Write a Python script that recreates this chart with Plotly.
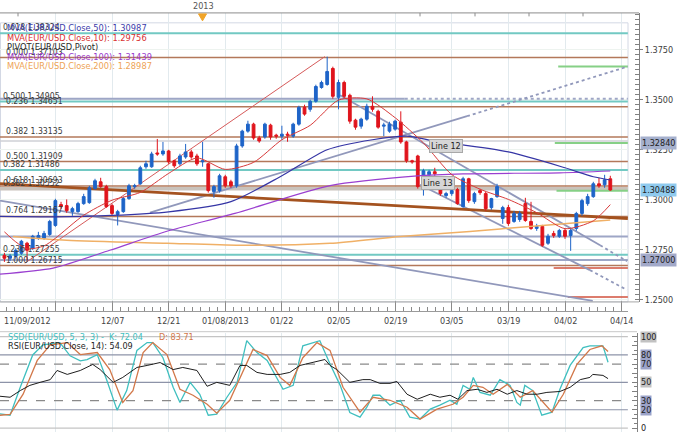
import plotly.graph_objects as go

W, H = 680, 436
def px(x): return x / W
def py(y): return 1 - y / H

FONT = "DejaVu Sans Condensed, DejaVu Sans, sans-serif"
BLUE = "#1e64c8"
RED = "#e0141c"

# ---------------- data ----------------
bars = list(range(1, 109))
opens = [1.2723,1.2708,1.2718,1.2733,1.2783,1.2758,1.2808,1.2808,1.2827,1.2872,
         1.2976,1.2971,1.2941,1.2941,1.2981,1.2986,1.3056,1.3090,1.3066,1.2971,
         1.2927,1.2941,1.3006,1.3066,1.3080,1.3165,1.3165,1.3234,1.3229,1.3244,
         1.3195,1.3180,1.3214,1.3239,1.3219,1.3190,1.3180,1.3041,1.3046,1.3115,
         1.3090,1.3070,1.3269,1.3343,1.3378,1.3309,1.3314,1.3373,1.3323,1.3318,
         1.3328,1.3318,1.3378,1.3462,1.3452,1.3492,1.3561,1.3576,1.3656,1.3512,
         1.3586,1.3522,1.3398,1.3368,1.3403,1.3467,1.3442,1.3368,1.3343,1.3353,
         1.3388,1.3289,1.3195,1.3219,1.3120,1.3125,1.3140,1.3080,1.3021,1.3031,
         1.3051,1.2966,1.3105,1.2991,1.3046,1.3031,1.2961,1.3016,1.2907,1.2961,
         1.2892,1.2902,1.2981,1.2892,1.2857,1.2867,1.2783,1.2832,1.2818,1.2847,
         1.2822,1.2857,1.2932,1.2981,1.3016,1.3080,1.3075,1.3105]
highs = [1.2735,1.2730,1.2758,1.2800,1.2790,1.2825,1.2840,1.2845,1.2900,1.3005,
         1.2990,1.3002,1.2965,1.2990,1.3030,1.3070,1.3105,1.3110,1.3075,1.2980,
         1.2950,1.3015,1.3080,1.3080,1.3170,1.3195,1.3240,1.3304,1.3289,1.3250,
         1.3200,1.3230,1.3279,1.3250,1.3230,1.3289,1.3185,1.3075,1.3130,1.3125,
         1.3100,1.3280,1.3350,1.3395,1.3385,1.3320,1.3385,1.3380,1.3330,1.3370,
         1.3340,1.3385,1.3470,1.3475,1.3500,1.3575,1.3595,1.3715,1.3665,1.3600,
         1.3595,1.3530,1.3405,1.3410,1.3480,1.3517,1.3450,1.3385,1.3390,1.3400,
         1.3442,1.3295,1.3200,1.3225,1.3155,1.3150,1.3160,1.3110,1.3040,1.3060,
         1.3060,1.3115,1.3110,1.3040,1.3055,1.3040,1.3010,1.3080,1.2970,1.2975,
         1.2945,1.2945,1.3010,1.2990,1.2880,1.2875,1.2830,1.2845,1.2855,1.2855,
         1.2855,1.2940,1.3005,1.3030,1.3090,1.3110,1.3125,1.3120]
lows = [1.2690,1.2695,1.2705,1.2725,1.2698,1.2750,1.2800,1.2800,1.2820,1.2865,
        1.2955,1.2935,1.2920,1.2935,1.2975,1.2980,1.3050,1.3060,1.2960,1.2920,
        1.2872,1.2935,1.3000,1.3055,1.3075,1.3155,1.3160,1.3220,1.3220,1.3180,
        1.3160,1.3170,1.3205,1.3205,1.3170,1.3165,1.3036,1.3010,1.3036,1.3060,
        1.3060,1.3060,1.3260,1.3335,1.3300,1.3285,1.3305,1.3300,1.3305,1.3300,
        1.3290,1.3310,1.3370,1.3420,1.3440,1.3485,1.3555,1.3570,1.3505,1.3452,
        1.3505,1.3380,1.3350,1.3355,1.3395,1.3440,1.3355,1.3318,1.3335,1.3345,
        1.3280,1.3185,1.3180,1.3056,1.3021,1.3115,1.3120,1.3020,1.3010,1.3020,
        1.2975,1.2960,1.2985,1.2980,1.3025,1.2945,1.2950,1.3010,1.2880,1.2870,
        1.2885,1.2890,1.2890,1.2850,1.2845,1.2765,1.2775,1.2810,1.2810,1.2805,
        1.2745,1.2845,1.2920,1.2970,1.3010,1.3060,1.3060,1.3045]
closes = [1.2708,1.2720,1.2748,1.2793,1.2748,1.2818,1.2822,1.2832,1.2892,1.2996,
          1.2966,1.2946,1.2956,1.2981,1.3016,1.3060,1.3095,1.3066,1.2966,1.2932,
          1.2941,1.3006,1.3070,1.3070,1.3160,1.3180,1.3229,1.3229,1.3244,1.3190,
          1.3170,1.3219,1.3239,1.3214,1.3180,1.3195,1.3046,1.3066,1.3120,1.3070,
          1.3070,1.3269,1.3343,1.3378,1.3309,1.3294,1.3378,1.3314,1.3318,1.3328,
          1.3323,1.3378,1.3462,1.3428,1.3492,1.3566,1.3586,1.3641,1.3517,1.3586,
          1.3517,1.3393,1.3363,1.3403,1.3467,1.3452,1.3363,1.3373,1.3378,1.3393,
          1.3289,1.3195,1.3190,1.3066,1.3145,1.3140,1.3130,1.3031,1.3031,1.3046,
          1.2981,1.3105,1.2996,1.3031,1.3036,1.2956,1.3006,1.3066,1.2961,1.2882,
          1.2932,1.2932,1.2897,1.2857,1.2867,1.2773,1.2818,1.2822,1.2847,1.2818,
          1.2847,1.2932,1.2996,1.3016,1.3080,1.3070,1.3100,1.3049]

ma10_x = [1,3,5,8,10,15,20,25,30,35,40,45,50,55,60,65,70,75,80,85,90,95,100,105,108]
ma10 = [1.2840,1.2790,1.2755,1.2770,1.2808,1.2923,1.2998,1.3037,1.3132,1.3209,1.3152,1.3187,
        1.3300,1.3372,1.3498,1.3504,1.3410,1.3284,1.3126,1.3053,1.3002,1.2936,1.2856,1.2895,1.2976]
ma50_x = [0.2,10,20,30,41,50,58,66,72,77,90,100,105,108]
ma50 = [1.2917,1.2915,1.2922,1.2940,1.2991,1.3120,1.3250,1.3300,1.3318,1.3294,1.3239,1.3160,1.3115,1.3099]
ma100_x = [0.2,9.6,19.6,29.7,41.7,58.5,73.9,82,99.1,108]
ma100 = [1.2629,1.2659,1.2748,1.2843,1.2932,1.3071,1.3120,1.3130,1.3135,1.3144]
ma200_x = [2.5,12,29.7,42.6,58.5,70.9,83.2,93.8,108]
ma200 = [1.2817,1.2798,1.2783,1.2773,1.2783,1.2817,1.2842,1.2867,1.2899]

k_x = [0.2,2.0,3.8,6.0,7.8,10.8,12.6,14.4,15.6,17.4,19.1,20.9,22.6,24.4,26.2,27.2,29.0,30.8,32.0,33.8,
       35.5,37.0,38.5,40.3,42.1,43.8,45.6,47.4,50.2,52.0,53.7,56.7,58.5,60.3,62.0,63.8,65.0,66.1,67.3,69.1,
       70.9,72.6,74.4,76.2,77.9,79.7,80.9,82.0,83.2,83.8,85.0,86.8,88.5,90.3,91.5,92.1,92.9,94.3,95.9,97.7,
       99.1,100.9,103.2,104.4,106.7,107.6]
k_v = [15.6,14,44.6,80,91,93.5,79,73.5,75,80.4,52,19.6,41,85,93.5,93.5,77,44.6,28,50,
       37,14,15.2,33.7,50,95.6,82.6,73.9,42.4,46.7,90,95.6,70,46.7,17,12,22.8,35.9,35.9,25,
       30.4,12,9.8,20.7,25,30.4,26,46.7,42.4,55.4,39,35.9,53,46.7,28,25,46.7,41,14,17.4,
       42.4,68.5,88,90,90,72.04]
d_x = [0.2,2.0,4.3,6.8,9.1,12.1,14.4,17.4,19.6,21.9,23.7,25.5,27.2,29.7,32.0,34.3,36.8,38.5,40.8,42.6,
       44.9,47.4,49.7,51.4,53.7,56.2,58.5,60.8,63.8,66.1,69.1,72.1,74.4,77.4,80.2,82.0,83.8,85.5,87.3,89.8,
       92.1,94.3,97.7,99.7,102.1,104.4,106.5,107.6]
d_v = [14,15,37,74,91,93.5,80.4,82.6,64,28,41,82.6,93.5,80.4,42.4,35.9,26,16.3,30.4,55.4,
       86,79.3,55.4,46.7,77,93.5,85,44.6,17.4,33.7,30.4,22.8,9.8,20.7,26,33.7,46.7,44.6,37,47.8,
       33.7,41,17.4,37,69.6,86,90,83.71]
rsi_x = [0.2,2.0,3.8,5.5,7.3,9.1,10.3,12.1,14.4,16.6,17.9,20.2,21.9,24.4,26.2,28.5,30.8,32.5,35.0,36.8,
         38.5,40.8,42.6,43.8,45.6,47.4,49.7,51.4,53.2,55.5,57.6,58.5,59.7,62.0,64.3,65.6,67.3,69.1,70.3,72.1,
         73.9,76.2,77.9,79.7,81.1,82.7,84.5,86.2,88.0,89.8,91.5,93.3,95.1,96.8,99.1,100.9,102.7,104.4,104.9,106.7,107.6]
rsi_v = [34.8,33.7,41,46.7,50,53,63,58.7,63,69.6,64,50,55.4,66.3,68.5,71.7,64,66.3,63,45.7,
         50,46.7,68.5,68.5,60.9,58.7,58.7,60.9,68.5,71.7,75,68.5,64,50,53,53,48.9,48.9,51,37,
         31.5,37,33.7,35.9,31.5,41,42.4,39,42.4,37,41,37,37,39,40,44.6,53,55.4,58.7,57.6,54.09]

fib_text = ["0.618 1.38324","0.000 1.37103","0.500 1.34905","0.236 1.34651","0.382 1.33135",
            "0.500 1.31909","0.382 1.31486","0.618 1.30693","0.382 1.30552","0.764 1.29167",
            "0.236 1.27255","1.000 1.26715"]
fib_price = [1.38324,1.37103,1.34905,1.34651,1.33135,1.31909,1.31486,1.30693,1.30552,1.29167,1.27255,1.26715]
fib_kind = ["teal","brown","teal","brown","brown","brown","teal","brown","band","brown","teal","brown"]
fib_textx = [1,4,1,4,4,4,1,4,1,4,1,4]

other_price = [1.3505, 1.3294, 1.2817, 1.2700]
other_kind = ["grayblue", "lightgray", "grayblue", "grayblue"]

short_price = [1.3666, 1.3284, 1.3045, 1.2660, 1.2514]
short_from = [98.8, 98.2, 98.5, 98.0, 100.5]
short_kind = ["green", "green", "green", "red", "red"]

trend_x0 = [0.22, 26.7, 82.7, 60.3, 106.2, 74.4, 104.4, 4.6, 0.22]
trend_p0 = [1.29960, 1.29365, 1.34177, 1.35218, 1.27728, 1.30754, 1.26488, 1.26835, 1.30804]
trend_x1 = [104.9, 82.7, 111.1, 106.2, 110.95, 104.4, 110.95, 57.6, 111.1]
trend_p1 = [1.24950, 1.34177, 1.36657, 1.27728, 1.26934, 1.26488, 1.25496, 1.37153, 1.29067]
trend_kind = ["gray", "gray", "graydot", "gray", "graydot", "gray", "graydot", "red", "thick"]

price_ticks = [1.25, 1.275, 1.30, 1.325, 1.35, 1.375]
date_pos = [0, 20, 30, 40, 50, 60, 70, 80, 90, 100, 110]
date_text = ["11/09/2012", "12/07", "12/21", "01/08/2013", "01/22", "02/05",
             "02/19", "03/05", "03/19", "04/02", "04/14"]
major_ticks = list(range(0, 111, 10))

# ---------------- figure ----------------
X_LO, X_HI = 0.2208, 111.125
P_BOT, P_TOP = 1.24901, 1.39335

fig = go.Figure()
fig.add_trace(go.Candlestick(
    x=bars, open=opens, high=highs, low=lows, close=closes, xaxis="x", yaxis="y",
    increasing=dict(line=dict(color=BLUE, width=1), fillcolor=BLUE),
    decreasing=dict(line=dict(color=RED, width=1), fillcolor=RED),
    whiskerwidth=0, showlegend=False, hoverinfo="skip"))

for xs, ys, col, w in [(ma200_x, ma200, "#f0b066", 1.5), (ma100_x, ma100, "#9a3fd0", 1.2),
                       (ma50_x, ma50, "#3535a5", 1.2), (ma10_x, ma10, "#d83a3a", 1.0)]:
    fig.add_trace(go.Scatter(x=xs, y=ys, mode="lines", xaxis="x", yaxis="y",
                             line=dict(color=col, width=w, shape="spline", smoothing=0.7),
                             showlegend=False, hoverinfo="skip"))

for xs, ys, col, w in [(k_x, k_v, "#3fbfbf", 1.3), (d_x, d_v, "#d2784a", 1.3), (rsi_x, rsi_v, "#1e1e1e", 1.0)]:
    fig.add_trace(go.Scatter(x=xs, y=ys, mode="lines", xaxis="x2", yaxis="y2",
                             line=dict(color=col, width=w), showlegend=False, hoverinfo="skip"))

fig.add_trace(go.Scatter(x=[X_LO], y=[0], xaxis="x3", yaxis="y3", mode="markers",
                         marker=dict(opacity=0), showlegend=False, hoverinfo="skip"))

COL = {"teal": ("#72c9c3", 2), "brown": ("#b3785a", 1.5), "band": ("#c9c2bb", 3.5),
       "grayblue": ("#9ea6c6", 2), "lightgray": ("#cfd1d6", 1.5),
       "green": ("#86d086", 2), "red": ("#d0503c", 1.5)}

shapes = []
def seg(x0, p0, x1, p1, color, width, dash=None, xr="x", yr="y", layer="between"):
    shapes.append(dict(type="line", xref=xr, yref=yr, x0=x0, y0=p0, x1=x1, y1=p1, layer=layer,
                       line=dict(color=color, width=width, dash=dash) if dash else dict(color=color, width=width)))

XR_END = 111.1
for p, k in zip(fib_price, fib_kind):
    c, w = COL[k]
    seg(X_LO, p, XR_END, p, c, w)
for p, k in zip(other_price, other_kind):
    c, w = COL[k]
    if p == 1.3505:
        seg(X_LO, p, 71.7, p, c, w)
        seg(71.7, p, XR_END, p, c, w, dash="dot")
    else:
        seg(X_LO, p, XR_END, p, c, w)
for p, x0, k in zip(short_price, short_from, short_kind):
    c, w = COL[k]
    seg(x0, p, XR_END, p, c, w)
for x0, p0, x1, p1, k in zip(trend_x0, trend_p0, trend_x1, trend_p1, trend_kind):
    if k == "gray":
        seg(x0, p0, x1, p1, "#9198bb", 1.8)
    elif k == "graydot":
        seg(x0, p0, x1, p1, "#9198bb", 1.8, dash="dot")
    elif k == "red":
        seg(x0, p0, x1, p1, "#d65a5a", 1.0)
    else:
        seg(x0, p0, x1, p1, "#a4521f", 2.8)

# oscillator reference lines
for v, c, dash in [(100, "#c4c4c4", None), (80, "#8d93a8", None), (70, "#8a8a8a", "dash"),
                   (50, "#8d93a8", None), (30, "#8a8a8a", "dash"), (20, "#8d93a8", None), (0, "#c4c4c4", None)]:
    seg(X_LO, v, XR_END, v, c, 1.2, dash=dash, xr="x2", yr="y2")

def pline(x0, y0, x1, y1, color, width=1):
    shapes.append(dict(type="line", xref="paper", yref="paper", x0=px(x0), y0=py(y0), x1=px(x1), y1=py(y1),
                       line=dict(color=color, width=width), layer="above"))

# frames
shapes.append(dict(type="rect", xref="paper", yref="paper", x0=px(0.5), y0=py(304), x1=px(628), y1=py(23),
                   line=dict(color="#d3d8e4", width=1), layer="between"))
pline(0, 13, 639, 13, "#8c8c8c")
pline(0, 304, 639, 304, "#a8a8a8")
pline(0, 334, 637, 334, "#c8c8c8")
for tx in [18, 420, 475, 529, 583]:
    pline(tx, 13, tx, 16.5, "#8c8c8c")
# 2013 marker triangle
shapes.append(dict(type="path", xref="paper", yref="paper",
                   path=f"M {px(198.5)},{py(14)} L {px(206.5)},{py(14)} L {px(202.5)},{py(21)} Z",
                   fillcolor="#f0a428", line=dict(color="#f0a428", width=1), layer="above"))

ann = []
def text(x, y, s, color="#333333", size=8.5, xanchor="left", xref="paper", yref="paper", **kw):
    d = dict(x=x, y=y, xref=xref, yref=yref, text=s, showarrow=False, xanchor=xanchor, yanchor="middle",
             font=dict(family=FONT, size=size, color=color))
    d.update(kw)
    ann.append(d)

for s, p, tx in zip(fib_text, fib_price, fib_textx):
    text(px(tx), p, s, color="#3a3a3a", size=8.6, yref="y", yshift=6)

legend_rows = [("MVA(EUR/USD.Close,50): 1.30987", "#3c3caa", 28),
               ("MVA(EUR/USD.Close,10): 1.29756", "#d83030", 38),
               ("PIVOT(EUR/USD,Pivot)", "#2a2a2a", 47),
               ("MVA(EUR/USD.Close,100): 1.31439", "#9a3acc", 56.5),
               ("MVA(EUR/USD.Close,200): 1.28987", "#eea355", 66)]
for s, c, y in legend_rows:
    text(px(5), py(y), s, color=c, size=9.2)

text(px(203), py(6), "2013", color="#555555", size=9, xanchor="center")

for pos, s in zip(date_pos, date_text):
    if pos == 0:
        text(px(2), py(323), s, color="#444444", size=9, xanchor="left")
    else:
        text(pos, py(323), s, color="#444444", size=9, xanchor="center", xref="x3")

for v, s, bg in [(1.3284, "1.32840", "#a5b0cd"), (1.30488, "1.30488", "#8fcaee"), (1.2700, "1.27000", "#a2a9c9")]:
    text(px(640), v, s, color="#222222", size=9, yref="y", bgcolor=bg, borderpad=1)

for v, s, bg in [(100, "100", "#c2c2c2"), (80, "80", "#9ca3c9"), (70, "70", "#9ca3c9"), (50, "50", "#c2c2c2"),
                 (30, "30", "#9ca3c9"), (20, "20", "#9ca3c9"), (0, "0", "rgba(0,0,0,0)")]:
    text(px(640), v, s, color="#222222", size=9, yref="y2", bgcolor=bg, borderpad=0)

text(px(429), py(147), "Line 12", color="#222222", size=9, bgcolor="#d6d6d6", bordercolor="#a8a8a8",
     borderwidth=1, borderpad=1)
text(px(421), py(184), "Line 13", color="#222222", size=9, bgcolor="#d6d6d6", bordercolor="#a8a8a8",
     borderwidth=1, borderpad=1)

text(px(6), py(339), "SSD(EUR/USD, 5, 3, 3) -  K: 72.04", color="#3fbfbf", size=9)
text(px(157), py(339), "D: 83.71", color="#d2784a", size=9)
text(px(6), py(348.5), "RSI(EUR/USD.Close, 14): 54.09", color="#1e1e1e", size=9)

GRID = "#e2eaee"
fig.update_layout(
    width=W, height=H, margin=dict(l=0, r=0, t=0, b=0),
    paper_bgcolor="white", plot_bgcolor="white", showlegend=False,
    xaxis=dict(domain=[0, px(628)], range=[X_LO, X_HI], anchor="y", tickmode="array", tickvals=major_ticks,
               showticklabels=False, ticks="", showgrid=True, gridcolor=GRID, zeroline=False, showline=False,
               rangeslider=dict(visible=False), fixedrange=True),
    yaxis=dict(domain=[py(304), py(13)], range=[P_BOT, P_TOP], side="right", anchor="free", position=px(639),
               tickmode="array", tickvals=price_ticks, ticktext=[f"{v:.4f}" for v in price_ticks],
               ticks="outside", ticklen=3, tickcolor="#808080", showline=True, linecolor="#808080",
               showgrid=True, gridcolor="#edf3ef", zeroline=False,
               minor=dict(tickmode="linear", tick0=1.25, dtick=0.0025, ticks="inside", ticklen=4,
                          tickcolor="#808080", showgrid=False),
               tickfont=dict(family=FONT, size=9, color="#404040"), fixedrange=True),
    xaxis2=dict(domain=[0, px(628)], range=[X_LO, X_HI], anchor="y2", tickmode="array", tickvals=major_ticks,
                showticklabels=False, ticks="", showgrid=True, gridcolor=GRID, zeroline=False, showline=False,
                fixedrange=True),
    yaxis2=dict(domain=[py(435), py(335)], range=[-4.35, 104.35], side="right", anchor="free", position=px(637),
                tickmode="array", tickvals=list(range(0, 101, 10)), showticklabels=False,
                ticks="inside", ticklen=5, tickcolor="#808080", showline=True, linecolor="#808080",
                showgrid=False, zeroline=False,
                minor=dict(tickmode="linear", tick0=0, dtick=5, ticks="inside", ticklen=3, tickcolor="#808080"),
                fixedrange=True),
    xaxis3=dict(domain=[0, px(628)], range=[X_LO, X_HI], anchor="y3", tickmode="array", tickvals=major_ticks,
                showticklabels=False, ticks="inside", ticklen=10, tickcolor="#8a8a8a", showline=True,
                linecolor="#9a9a9a", showgrid=False, zeroline=False,
                minor=dict(tickmode="linear", tick0=0, dtick=10 / 7, ticks="inside", ticklen=4, tickcolor="#8a8a8a"),
                fixedrange=True),
    yaxis3=dict(domain=[py(313), py(304)], range=[0, 1], visible=False, fixedrange=True),
    shapes=shapes, annotations=ann,
)

fig.write_html("out.html", config={"displayModeBar": False},
               post_script="document.body.style.margin='0px';document.body.style.overflow='hidden';")
